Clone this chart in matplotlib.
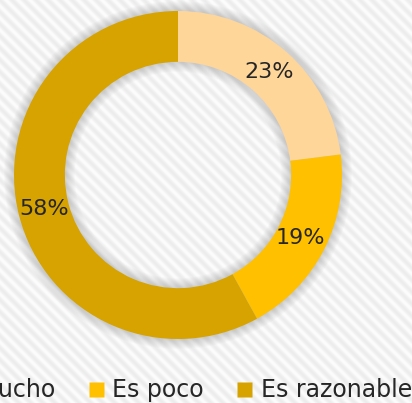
import numpy as np
import matplotlib
matplotlib.use("Agg")
import matplotlib.pyplot as plt
from matplotlib.patches import Wedge
from matplotlib.lines import Line2D

# chart data
labels = ["Es mucho", "Es poco", "Es razonable"]
values = [23, 19, 58]
colors = ["#FFD699", "#FFC000", "#D6A300"]

W, H = 412, 403
fig = plt.figure(figsize=(W / 100, H / 100), dpi=100)

# striped background
bg = fig.add_axes([0, 0, 1, 1], zorder=0)
yy, xx = np.mgrid[0:H, 0:W]
stripes = 0.5 + 0.5 * np.cos(2 * np.pi * (xx - yy) / 12)
img = 0.985 - 0.06 * stripes
bg.imshow(img, cmap="gray", vmin=0, vmax=1, aspect="auto", interpolation="bilinear")
bg.axis("off")

# donut axes: centre (178, 175) px, outer radius 164 px
cx, cy, r_px = 178, 175, 164
lim = 1.1
size = 2 * lim * r_px
ax = fig.add_axes([(cx - size / 2) / W, (H - cy - size / 2) / H, size / W, size / H],
                  zorder=1)

ring = 0.31
inner = 1 - ring

# soft shadow round the ring
n, step = 10, 0.006
for k in range(1, n + 1):
    outer_r = 1 + k * step
    inner_r = inner - k * step
    ax.add_patch(Wedge((0, 0), outer_r, 0, 360, width=outer_r - inner_r,
                       facecolor="#707070", edgecolor="none", alpha=0.03))

wedges, _ = ax.pie(values, colors=colors, startangle=90, counterclock=False,
                   radius=1, wedgeprops=dict(width=ring, edgecolor="none"))

# pie() resets the limits, so set them afterwards
ax.set_xlim(-lim, lim)
ax.set_ylim(-lim, lim)
ax.set_aspect("equal")
ax.axis("off")

# percentage labels in the ring
total = sum(values)
angle = 90.0
for v in values:
    mid = np.deg2rad(angle - v / total * 180)
    angle -= v / total * 360
    ax.text(0.84 * np.cos(mid), 0.84 * np.sin(mid), f"{v}%", ha="center",
            va="center", fontsize=16, color="#262626")

# legend along the bottom (runs off the figure edges like the original)
handles = [Line2D([], [], linestyle="none", marker="s", markersize=10.8,
                  markerfacecolor=c, markeredgecolor="none") for c in colors]
fig.legend(handles, labels, loc="center", ncol=3, frameon=False,
           bbox_to_anchor=(164 / W, 1 - 390 / H), fontsize=17,
           handlelength=0.64, handletextpad=0.38, columnspacing=1.4,
           labelcolor="#262626")

fig.savefig("out.png", dpi=100)
